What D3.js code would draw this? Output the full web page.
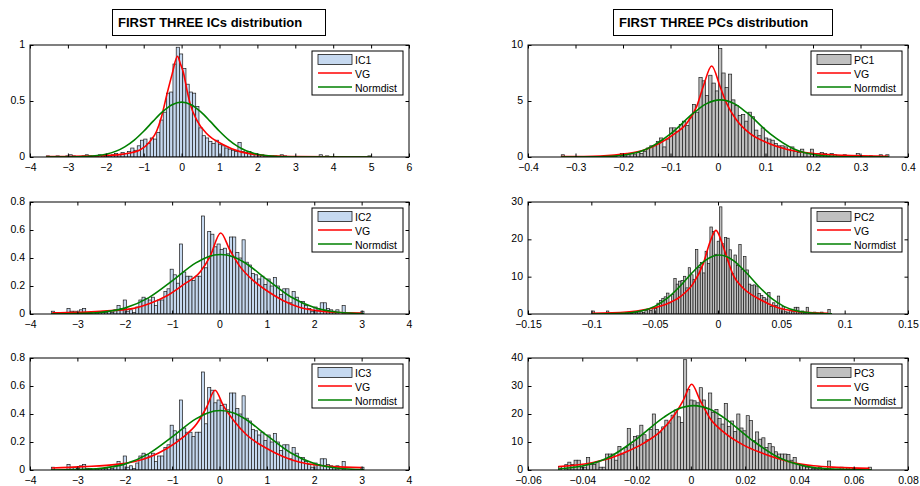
<!DOCTYPE html>
<html>
<head>
<meta charset="utf-8">
<script src="https://cdn.jsdelivr.net/npm/d3@7"></script>
<style>
  body { margin: 0; background: #fff; }
  svg { font-family: "Liberation Sans", Arial, Helvetica, sans-serif; }
</style>
</head>
<body>
<div id="chart"></div>
<script>
// ---- data ----
const panelNames = ["IC1", "PC1", "IC2", "PC2", "IC3", "PC3"];
const columnTitles = ["FIRST THREE ICs distribution", "FIRST THREE PCs distribution"];
const curveNames = ["VG", "Normdist"];

// histogram: left edge of first bin and bin width (100 bins each)
const binStarts = [-3.57, -0.33, -3.55, -0.0995, -3.55, -0.0488];
const binWidths = [0.0857, 0.0069, 0.066, 0.0019, 0.066, 0.001153];

const ic1Counts = [
  0.01,0,0,0.01,0,0,0.01,0.02,0.01,0,
  0,0.01,0.02,0.01,0,0.01,0.02,0.01,0.02,0.01,
  0.02,0.03,0.02,0.04,0.03,0.05,0.08,0.06,0.10,0.15,
  0.16,0.12,0.17,0.16,0.22,0.33,0.40,0.57,0.58,0.83,
  0.98,0.92,0.79,0.65,0.58,0.57,0.45,0.26,0.19,0.17,
  0.14,0.12,0.15,0.11,0.10,0.08,0.07,0.06,0.05,0.13,
  0.05,0.04,0.05,0.03,0.03,0.02,0.02,0.01,0.01,0.01,
  0.01,0,0.02,0.01,0,0,0,0,0,0,
  0,0,0,0,0.02,0,0.01,0,0,0,
  0,0,0,0,0,0,0,0,0,0.01];
const pc1Counts = [
  0.2,0,0,0,0,0,0,0,0,0,
  0,0,0,0.1,0,0,0.1,0,0.3,0.1,
  0.2,0.3,0.2,0.4,0.3,0.5,0.8,1.0,1.0,1.4,
  1.7,0.9,1.6,2.6,2.6,2.3,2.9,3.2,2.8,3.5,
  4.7,4.0,7.1,6.8,5.5,7.3,6.6,5.9,9.7,7.5,
  6.2,7.4,5.1,4.6,3.7,3.8,3.2,4.0,3.6,2.4,
  1.9,2.6,1.7,1.6,1.5,1.2,1.0,1.0,0.9,0.7,
  0.9,0.5,0.4,0.7,0.4,0.3,0.7,0.2,0.3,0.4,
  0.3,0.2,0.3,0.2,0.1,0.1,0.2,0.1,0.1,0.1,
  0.3,0.1,0,0,0.1,0,0,0.2,0,0.2];
const ic2Counts = [
  0.02,0,0,0,0,0.04,0.02,0.02,0.01,0.03,
  0.04,0.01,0.01,0,0.01,0.01,0.01,0.01,0.02,0.01,
  0.03,0.06,0.04,0.10,0.02,0.03,0.01,0.05,0.10,0.12,
  0.11,0.10,0.12,0.06,0.10,0.10,0.16,0.18,0.32,0.28,
  0.22,0.50,0.30,0.27,0.27,0.24,0.27,0.27,0.70,0.33,
  0.59,0.57,0.48,0.50,0.46,0.47,0.43,0.55,0.55,0.44,
  0.40,0.53,0.37,0.35,0.29,0.28,0.25,0.27,0.21,0.25,
  0.20,0.26,0.20,0.14,0.18,0.18,0.08,0.16,0.12,0.09,
  0.09,0.06,0.04,0.02,0.05,0.04,0.08,0.08,0.04,0.03,
  0.02,0.03,0,0.06,0,0,0,0,0,0.02];
const pc2Counts = [
  0.8,0,0,0,0,0,0.8,0,0,0.2,
  0,0.3,0,0.2,0.4,0.3,0.2,0.5,0.4,0.3,
  0.6,0.4,0.9,1.3,0.9,1.8,1.5,2.9,3.6,4.2,
  4.6,5.6,3.0,5.2,9.5,8.0,8.8,9.0,10.1,7.0,
  12.4,10.5,9.3,17.3,12.5,13.8,11.0,16.8,13.5,23.3,
  22.1,16.0,19.5,28.7,18.8,20.5,20.3,17.2,10.8,15.8,
  13.0,18.6,12.0,15.4,11.8,8.0,7.7,7.8,7.5,5.5,
  5.0,4.4,4.0,5.8,2.0,3.0,2.3,4.8,1.5,2.0,
  0.6,0.5,0.9,0.6,1.8,1.8,0.5,0.8,0.3,1.8,
  0.4,0.3,0.5,0.3,0.2,0.5,0,0,1.2,0];
const ic3Counts = [
  0.02,0,0,0,0,0.04,0.02,0.02,0.01,0.03,
  0.04,0.01,0.01,0,0.01,0.01,0.01,0.01,0.02,0.01,
  0.03,0.06,0.04,0.10,0.02,0.03,0.01,0.05,0.10,0.12,
  0.11,0.10,0.12,0.06,0.10,0.10,0.16,0.18,0.32,0.28,
  0.22,0.50,0.30,0.27,0.27,0.24,0.27,0.27,0.70,0.33,
  0.59,0.57,0.48,0.50,0.46,0.47,0.43,0.55,0.55,0.44,
  0.40,0.53,0.37,0.35,0.29,0.28,0.25,0.27,0.21,0.25,
  0.20,0.26,0.20,0.14,0.18,0.18,0.08,0.16,0.12,0.09,
  0.09,0.06,0.04,0.02,0.05,0.04,0.08,0.08,0.04,0.03,
  0.02,0.03,0,0.06,0,0,0,0,0,0.02];
const pc3Counts = [
  1.2,0,1.9,2.8,2.0,3.5,3.5,1.0,1.0,4.5,
  2.0,2.0,3.0,1.0,1.0,5.7,5.7,5.7,3.5,8.4,
  5.7,8.0,14.8,9.0,12.0,12.2,16.0,12.6,10.8,14.5,
  20.0,14.5,13.3,15.4,17.8,16.8,19.6,21.4,19.0,17.0,
  39.4,28.7,25.0,24.7,24.0,29.4,25.0,22.0,27.5,20.5,
  21.6,18.4,16.4,23.8,15.6,17.5,13.8,20.0,15.0,14.0,
  19.4,17.7,10.5,13.6,11.0,11.5,8.0,9.5,8.3,6.5,
  5.7,5.7,5.7,5.5,3.5,4.5,2.2,1.5,1.4,1.0,
  1.0,0.5,0.5,1.0,0.5,0.3,3.2,0.3,0,0.3,
  1.0,0,0.8,0,0.5,0.3,0,0,0,1.0];

// fitted VG density, sampled as [x, density]
const ic1VG = [[-3.57,0.003],[-3,0.005],[-2.5,0.008],[-2,0.014],[-1.54,0.026],[-1.1,0.063],[-0.84,0.137],
  [-0.66,0.23],[-0.53,0.36],[-0.38,0.57],[-0.25,0.74],[-0.11,0.90],[-0.03,0.83],[0.05,0.75],[0.14,0.60],
  [0.23,0.47],[0.4,0.33],[0.66,0.21],[1.1,0.11],[1.54,0.048],[1.98,0.02],[2.5,0.008],[3,0.004],[4,0.001],[5,0.0005]];
const pc1VG = [[-0.33,0.03],[-0.248,0.09],[-0.192,0.3],[-0.157,0.6],[-0.122,1.25],[-0.094,2.0],[-0.066,3.0],
  [-0.045,4.5],[-0.031,6.3],[-0.0133,8.13],[0.0043,6.3],[0.018,4.8],[0.039,3.3],[0.067,2.1],[0.102,1.3],
  [0.144,0.7],[0.193,0.36],[0.263,0.15],[0.358,0.06]];
const ic2VG = [[-3.53,0.008],[-2.52,0.019],[-1.81,0.04],[-1.46,0.076],[-1.11,0.13],[-0.76,0.21],[-0.41,0.30],
  [-0.2,0.41],[0.025,0.579],[0.22,0.456],[0.43,0.34],[0.71,0.24],[1.0,0.166],[1.35,0.095],[1.7,0.047],
  [2.05,0.024],[2.4,0.012],[3.0,0.007]];
const pc2VG = [[-0.0995,0.2],[-0.072,0.53],[-0.0563,1.25],[-0.0405,2.7],[-0.030,4.6],[-0.0195,8.2],[-0.0116,13.5],
  [-0.0063,19.3],[-0.0016,22.4],[0.0029,19.3],[0.0068,15.3],[0.012,10.4],[0.020,6.9],[0.0332,3.9],[0.0463,1.8],
  [0.0595,0.8],[0.0726,0.36],[0.087,0.18]];
const ic3VG = [[-3.54,0.014],[-2.87,0.024],[-2.17,0.04],[-1.81,0.059],[-1.46,0.095],[-1.11,0.154],[-0.76,0.237],
  [-0.48,0.33],[-0.27,0.45],[-0.095,0.57],[0.08,0.46],[0.295,0.356],[0.576,0.25],[1.0,0.154],[1.35,0.095],
  [1.7,0.055],[2.05,0.036],[2.4,0.024],[3.0,0.017]];
const pc3VG = [[-0.0488,1.2],[-0.036,2.7],[-0.0298,4.2],[-0.0237,6.5],[-0.0175,9.5],[-0.0114,13.6],[-0.0065,19.0],
  [-0.0028,24.9],[0.0003,30.6],[0.0034,24.9],[0.0071,18.4],[0.012,13.6],[0.0194,8.9],[0.0255,6.3],[0.0317,4.2],
  [0.0378,2.6],[0.0452,1.5],[0.0538,0.95],[0.0658,0.6]];

// fitted normal density, sampled as [x, density]
const ic1Norm = [[-3.57,0.0001],[-3,0.0005],[-2.5,0.0045],[-2,0.024],[-1.5,0.09],[-1.25,0.151],[-1,0.23],
  [-0.75,0.32],[-0.5,0.405],[-0.25,0.467],[0,0.49],[0.25,0.467],[0.5,0.405],[0.75,0.32],[1,0.23],[1.25,0.151],
  [1.5,0.09],[2,0.024],[2.5,0.0045],[3,0.0005],[4,0],[5,0]];
const pc1Norm = [[-0.33,0.0005],[-0.25,0.024],[-0.2,0.161],[-0.15,0.708],[-0.1,2.06],[-0.05,3.98],[-0.025,4.74],
  [0.005,5.1],[0.035,4.74],[0.06,3.98],[0.11,2.06],[0.16,0.708],[0.21,0.161],[0.26,0.024],[0.36,0.0005]];
const ic2Norm = [[-3.55,0.0003],[-3,0.0024],[-2.5,0.0117],[-2,0.042],[-1.5,0.115],[-1,0.236],[-0.5,0.365],
  [-0.25,0.408],[0.02,0.425],[0.3,0.407],[0.5,0.373],[1,0.247],[1.5,0.123],[2,0.046],[2.5,0.013],[3.05,0.0023]];
const pc2Norm = [[-0.0995,0.006],[-0.08,0.092],[-0.06,0.853],[-0.05,2.05],[-0.04,4.23],[-0.03,7.44],[-0.02,11.18],
  [-0.01,14.37],[0.001,15.8],[0.012,14.37],[0.022,11.18],[0.032,7.44],[0.042,4.23],[0.052,2.05],[0.062,0.853],
  [0.082,0.092],[0.09,0.03]];
const ic3Norm = [[-3.55,0.0003],[-3,0.0024],[-2.5,0.0117],[-2,0.042],[-1.5,0.115],[-1,0.236],[-0.5,0.365],
  [-0.25,0.408],[0.02,0.425],[0.3,0.407],[0.5,0.373],[1,0.247],[1.5,0.123],[2,0.046],[2.5,0.013],[3.05,0.0023]];
const pc3Norm = [[-0.0488,0.37],[-0.04,1.41],[-0.03,4.66],[-0.02,11.06],[-0.01,18.8],[-0.005,21.7],[0.001,23],
  [0.007,21.7],[0.012,18.8],[0.022,11.06],[0.032,4.66],[0.042,1.41],[0.052,0.31],[0.0665,0.02]];

// axis ticks
const ic1XTicks = [-4,-3,-2,-1,0,1,2,3,4,5,6];
const ic1YTicks = [0,0.5,1];
const pc1XTicks = [-0.4,-0.3,-0.2,-0.1,0,0.1,0.2,0.3,0.4];
const pc1YTicks = [0,5,10];
const ic2XTicks = [-4,-3,-2,-1,0,1,2,3,4];
const ic2YTicks = [0,0.2,0.4,0.6,0.8];
const pc2XTicks = [-0.15,-0.1,-0.05,0,0.05,0.1,0.15];
const pc2YTicks = [0,10,20,30];
const ic3XTicks = [-4,-3,-2,-1,0,1,2,3,4];
const ic3YTicks = [0,0.2,0.4,0.6,0.8];
const pc3XTicks = [-0.06,-0.04,-0.02,0,0.02,0.04,0.06,0.08];
const pc3YTicks = [0,10,20,30,40];

const countsList = [ic1Counts, pc1Counts, ic2Counts, pc2Counts, ic3Counts, pc3Counts];
const vgList = [ic1VG, pc1VG, ic2VG, pc2VG, ic3VG, pc3VG];
const normList = [ic1Norm, pc1Norm, ic2Norm, pc2Norm, ic3Norm, pc3Norm];
const xTickList = [ic1XTicks, pc1XTicks, ic2XTicks, pc2XTicks, ic3XTicks, pc3XTicks];
const yTickList = [ic1YTicks, pc1YTicks, ic2YTicks, pc2YTicks, ic3YTicks, pc3YTicks];

// ---- layout / style ----
const W = 920, H = 486;
const colX = [30, 528], colW = [379, 380];
const rowY = [45, 202, 358], plotH = 112;
const barFill = ["#c6d9f0", "#c0c0c0"];
const vgColor = "#ff0000", normColor = "#008000";
const tickLen = 3.5;
const fmt = d3.format("");

const svg = d3.select("#chart").append("svg")
    .attr("width", W)
    .attr("height", H);

svg.append("rect").attr("width", W).attr("height", H).attr("fill", "#fff");

// column titles in boxes
const titleBoxes = [{x: 112, w: 213}, {x: 613, w: 219}];
columnTitles.forEach((t, c) => {
    svg.append("rect")
        .attr("x", titleBoxes[c].x + 0.5).attr("y", 9.5)
        .attr("width", titleBoxes[c].w).attr("height", 26)
        .attr("fill", "#fff").attr("stroke", "#000").attr("stroke-width", 1);
    svg.append("text")
        .attr("x", titleBoxes[c].x + 6).attr("y", 26.5)
        .attr("font-size", "13px").attr("font-weight", "bold")
        .attr("fill", "#000")
        .text(t);
});

panelNames.forEach((name, k) => {
    const col = k % 2, row = Math.floor(k / 2);
    const w = colW[col];
    const xt = xTickList[k], yt = yTickList[k];

    const x = d3.scaleLinear().domain([xt[0], xt[xt.length - 1]]).range([0, w]);
    const y = d3.scaleLinear().domain([yt[0], yt[yt.length - 1]]).range([plotH, 0]);

    const g = svg.append("g").attr("transform", `translate(${colX[col]},${rowY[row]})`);

    g.append("clipPath").attr("id", "clip" + k)
        .append("rect").attr("width", w).attr("height", plotH);

    const plot = g.append("g").attr("clip-path", `url(#clip${k})`);

    // histogram bars
    const bins = countsList[k].map((v, i) => ({
        x0: binStarts[k] + i * binWidths[k],
        x1: binStarts[k] + (i + 1) * binWidths[k],
        v: v
    })).filter(d => d.v > 0);

    plot.selectAll(".bar").data(bins).enter().append("rect")
        .attr("class", "bar")
        .attr("x", d => x(d.x0))
        .attr("width", d => x(d.x1) - x(d.x0))
        .attr("y", d => y(d.v))
        .attr("height", d => y(0) - y(d.v))
        .attr("fill", barFill[col])
        .attr("stroke", "#1a1a1a")
        .attr("stroke-width", 0.7);

    const line = d3.line()
        .x(d => x(d[0]))
        .y(d => y(d[1]))
        .curve(d3.curveMonotoneX);

    plot.append("path").datum(vgList[k])
        .attr("d", line)
        .attr("fill", "none").attr("stroke", vgColor).attr("stroke-width", 1.6);
    plot.append("path").datum(normList[k])
        .attr("d", line)
        .attr("fill", "none").attr("stroke", normColor).attr("stroke-width", 1.6);

    // axes, ticks pointing inward on all four sides
    const styleAxis = sel => {
        sel.select(".domain").remove();
        sel.selectAll("line").attr("stroke", "#000");
        sel.selectAll("text").attr("fill", "#000").attr("font-size", "10.5px");
        sel.attr("font-family", null).attr("font-size", null);
    };
    g.append("g").attr("transform", `translate(0,${plotH})`)
        .call(d3.axisBottom(x).tickValues(xt).tickSize(-tickLen).tickPadding(7).tickFormat(fmt))
        .call(styleAxis);
    g.append("g")
        .call(d3.axisTop(x).tickValues(xt).tickSize(-tickLen).tickFormat(""))
        .call(styleAxis);
    g.append("g")
        .call(d3.axisLeft(y).tickValues(yt).tickSize(-tickLen).tickPadding(5).tickFormat(fmt))
        .call(styleAxis)
        .call(a => a.selectAll("text").attr("dy", "0.25em"));
    g.append("g").attr("transform", `translate(${w},0)`)
        .call(d3.axisRight(y).tickValues(yt).tickSize(-tickLen).tickFormat(""))
        .call(styleAxis);

    g.append("rect")
        .attr("x", 0).attr("y", 0).attr("width", w).attr("height", plotH)
        .attr("fill", "none").attr("stroke", "#000").attr("stroke-width", 1);

    // legend
    const lw = 91, lh = 44;
    const lg = g.append("g").attr("transform", `translate(${w - 6 - lw},6)`);
    lg.append("rect").attr("width", lw).attr("height", lh)
        .attr("fill", "#fff").attr("stroke", "#000").attr("stroke-width", 1);
    lg.append("rect").attr("x", 6).attr("y", 3.5).attr("width", 34).attr("height", 10)
        .attr("fill", barFill[col]).attr("stroke", "#1a1a1a").attr("stroke-width", 0.8);
    lg.append("line").attr("x1", 6).attr("x2", 40).attr("y1", 22).attr("y2", 22)
        .attr("stroke", vgColor).attr("stroke-width", 1.6);
    lg.append("line").attr("x1", 6).attr("x2", 40).attr("y1", 36).attr("y2", 36)
        .attr("stroke", normColor).attr("stroke-width", 1.6);
    [name].concat(curveNames).forEach((t, i) => {
        lg.append("text")
            .attr("x", 43).attr("y", 12.5 + i * 14)
            .attr("font-size", "10.5px").attr("fill", "#000")
            .text(t);
    });
});
</script>
</body>
</html>
